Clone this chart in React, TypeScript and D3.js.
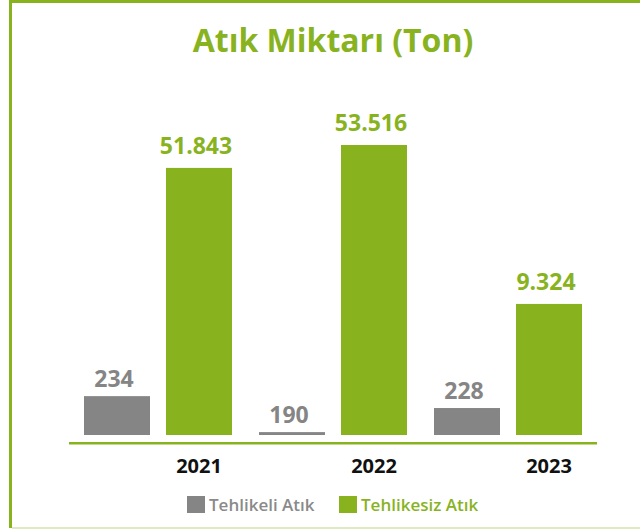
import React from "react";
import * as d3 from "d3";

// values shown on the chart (tons)
const years = ["2021", "2022", "2023"];
const hazardous = [234, 190, 228];
const nonHazardous = [51843, 53516, 9324];
// the source chart is not drawn to scale: visual bar height, % of the tallest bar
const hazardousLevel = [13.4, 1.0, 9.3];
const nonHazardousLevel = [92.1, 100, 45.2];
const seriesNames = ["Tehlikeli Atık", "Tehlikesiz Atık"];

const GREEN = "#88b31f";
const GRAY = "#858585";
const FONT = "'Open Sans', 'Noto Sans', sans-serif";

const fmt = (v: number) => d3.format(",")(v).replace(/,/g, ".");

export default function App() {
  const width = 640,
    height = 529;
  const base = 435;

  const x = d3
    .scaleBand()
    .domain(years)
    .range([84, 582])
    .paddingInner(27 / 175)
    .paddingOuter(0);
  const sub = d3
    .scaleBand()
    .domain(["h", "n"])
    .range([0, x.bandwidth()])
    .paddingInner(16 / 82);
  const y = d3.scaleLinear().domain([0, 100]).range([base, 145]);

  const bars = years.flatMap((yr, i) => [
    { key: "h", year: yr, level: hazardousLevel[i], value: hazardous[i], color: GRAY },
    { key: "n", year: yr, level: nonHazardousLevel[i], value: nonHazardous[i], color: GREEN },
  ]);

  return (
    <svg
      width={width}
      height={height}
      style={{ position: "absolute", left: 0, top: 0, background: "#fff" }}
      fontFamily={FONT}
    >
      {/* frame */}
      <rect x={9} y={0} width={3} height={528} fill={GREEN} />
      <rect x={9} y={0} width={631} height={3} fill={GREEN} />
      <rect x={12} y={527} width={628} height={2} fill="#dcebc2" />

      <text x={333} y={52} textAnchor="middle" fontSize={32} fontWeight={700} fill={GREEN}>
        Atık Miktarı (Ton)
      </text>

      {bars.map((b) => {
        const bx = (x(b.year) as number) + (sub(b.key) as number);
        const top = y(b.level);
        return (
          <g key={b.year + b.key}>
            <rect x={bx} y={top} width={sub.bandwidth()} height={base - top} fill={b.color} />
            <text
              x={bx + sub.bandwidth() / 2 - 3}
              y={top - (b.key === "h" ? 9 : 14)}
              textAnchor="middle"
              fontSize={23}
              fontWeight={700}
              fill={b.color}
            >
              {fmt(b.value)}
            </text>
          </g>
        );
      })}

      <rect x={69} y={442} width={528} height={2.5} fill={GREEN} />

      {years.map((yr) => (
        <text
          key={yr}
          x={(x(yr) as number) + (sub("n") as number) + sub.bandwidth() / 2}
          y={473}
          textAnchor="middle"
          fontSize={20}
          fontWeight={700}
          fill="#111"
        >
          {yr}
        </text>
      ))}

      {/* legend */}
      {seriesNames.map((name, i) => {
        const lx = i === 0 ? 187 : 339;
        const c = i === 0 ? GRAY : GREEN;
        return (
          <g key={name}>
            <rect x={lx} y={496} width={18} height={17} fill={c} />
            <text x={lx + 22} y={511} fontSize={17} fontWeight={600} fill={i === 0 ? "#8a8a8a" : GREEN}>
              {name}
            </text>
          </g>
        );
      })}
    </svg>
  );
}
